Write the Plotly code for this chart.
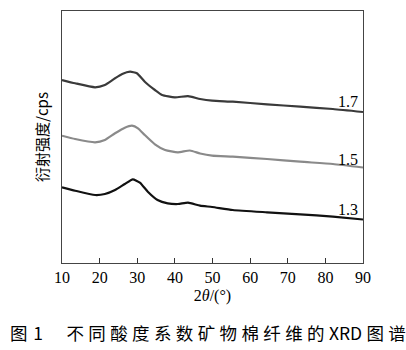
import plotly.graph_objects as go

# 2θ positions (degrees) and relative intensities
theta_17 = [10, 13.5, 18.8, 21.4, 24.1, 26.0, 28.1, 29.9, 32.0, 34.7, 36.6, 40.0, 43.5, 46.7, 49.9, 55.4, 64.5, 73.3, 82.0, 90.0]
int_17 = [183, 179.7, 175.7, 178, 184.7, 189, 191.3, 189.7, 181.3, 173, 168, 165.7, 166.8, 164, 162.3, 161.3, 158.7, 156.3, 154, 151]

theta_15 = [10, 13.5, 18.8, 21.4, 24.1, 26.7, 28.6, 30.2, 32.0, 34.7, 37.4, 40.8, 44.0, 46.7, 49.9, 55.4, 64.5, 73.3, 82.0, 90.0]
int_15 = [127.3, 124, 120.7, 123, 129.7, 135.3, 137.3, 134.7, 128, 118.7, 113, 110.7, 112.5, 109.5, 107.3, 106.3, 104, 101.3, 99, 95.5]

theta_13 = [10, 13.5, 18.8, 21.4, 24.1, 26.7, 28.8, 30.7, 32.8, 35.4, 38.1, 40.8, 43.5, 46.7, 49.9, 55.4, 64.5, 73.3, 82.0, 90.0]
int_13 = [75.7, 72.3, 68, 69, 73, 79, 83.7, 80.3, 71.3, 63, 59.7, 59, 60.3, 57.3, 56, 53, 50.7, 48.7, 46.3, 43.5]

series = [
    ("1.7", theta_17, int_17, "#3a3a3a"),
    ("1.5", theta_15, int_15, "#8a8a8a"),
    ("1.3", theta_13, int_13, "#111111"),
]
label_pos = {"1.7": 162, "1.5": 104, "1.3": 54}

x_ticks = [10, 20, 30, 40, 50, 60, 70, 80, 90]

fig = go.Figure()
for name, xs, ys, col in series:
    fig.add_trace(go.Scatter(x=xs, y=ys, mode="lines", name=name,
                             line=dict(color=col, width=2.2, shape="spline", smoothing=0.5),
                             showlegend=False, hoverinfo="skip"))
    fig.add_annotation(x=86, y=label_pos[name], text=name, showarrow=False,
                       font=dict(family="Liberation Serif", size=16, color="black"),
                       xanchor="center", yanchor="middle")

sp = "\u2005"
cap_chars = ["不", "同", "酸", "度", "系", "数", "矿", "物", "棉", "纤", "维", "的", "XRD", "图", "谱"]
caption = "图" + "\u2004" + "1" + "\u2003" + "\u2004" + sp.join(cap_chars)
fig.add_annotation(xref="paper", yref="paper", x=0.485, y=-0.275,
                   text=caption,
                   showarrow=False, xanchor="center", yanchor="middle",
                   font=dict(family="Noto Sans CJK SC", size=17.5, color="black"))

fig.update_layout(
    width=406, height=350,
    margin=dict(l=62, r=43, t=11, b=87),
    paper_bgcolor="white", plot_bgcolor="white",
    xaxis=dict(range=[10, 90], tickvals=x_ticks, ticktext=[str(v) for v in x_ticks],
               ticks="inside", ticklen=5, tickcolor="#333", showgrid=False, zeroline=False,
               showline=True, linecolor="#444", linewidth=1, mirror=True,
               tickfont=dict(family="Liberation Serif", size=16, color="black"),
               title=dict(text="2<i>θ</i>/(°)", standoff=4,
                          font=dict(family="Liberation Serif", size=16, color="black"))),
    yaxis=dict(range=[0, 252], showticklabels=False, ticks="", showgrid=False, zeroline=False,
               showline=True, linecolor="#444", linewidth=1, mirror=True,
               title=dict(text="衍射强度/cps", standoff=8,
                          font=dict(family="Noto Sans CJK SC", size=15, color="black"))),
)

fig.write_html("out.html")
